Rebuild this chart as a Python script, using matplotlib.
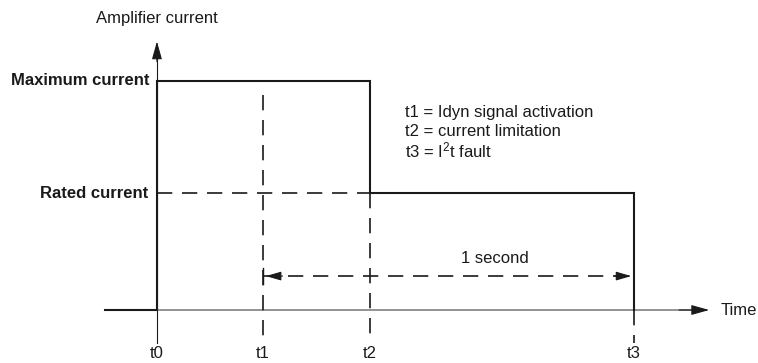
import matplotlib
matplotlib.use("Agg")
import matplotlib.pyplot as plt

plt.rcParams['font.family'] = ['Liberation Sans', 'DejaVu Sans']
plt.rcParams['mathtext.fontset'] = 'custom'
plt.rcParams['mathtext.rm'] = 'Liberation Sans'

# event times (seconds), t1 -> t3 is 1 second
t_names = ['t0', 't1', 't2', 't3']
t_vals = [0.0, 0.286, 0.574, 1.286]

# current levels (relative to rated current)
rated = 1.0
maximum = 1.96

legend_lines = ['t1 = Idyn signal activation',
                't2 = current limitation',
                r't3 = I$\mathregular{^2}$t fault']

t0, t1, t2, t3 = t_vals

fig = plt.figure(figsize=(7.58, 3.63), dpi=100)
ax = fig.add_axes([0, 0, 1, 1])
ax.set_xlim(-0.423, 1.620)
ax.set_ylim(-0.453, 2.650)
ax.axis('off')

dark = '#1a1a1a'
lw_d = 1.2
dash = (0, (11 / lw_d, 7 / lw_d))
fs = 12
big_head = '-|>,head_length=0.5,head_width=0.14'
small_head = '-|>,head_length=0.52,head_width=0.15'

# y axis
ax.plot([t0, t0], [-0.28, 2.2], color=dark, lw=0.8)
ax.annotate('', xy=(t0, 2.32), xytext=(t0, 2.1),
            arrowprops=dict(arrowstyle=big_head, color=dark, lw=0.8, mutation_scale=22))
# time axis
ax.plot([t0, 1.44], [0, 0], color='#808080', lw=1.2)
ax.annotate('', xy=(1.496, 0), xytext=(1.40, 0),
            arrowprops=dict(arrowstyle=big_head, color=dark, lw=0.8, mutation_scale=22))

# dashed guides
ax.plot([t0, t2], [rated, rated], color=dark, lw=lw_d, linestyle=dash)
ax.plot([t1, t1], [1.84, -0.28], color=dark, lw=lw_d, linestyle=dash)
ax.plot([t2, t2], [rated, -0.25], color=dark, lw=lw_d, linestyle=dash)
ax.plot([t3, t3], [0, -0.28], color=dark, lw=lw_d, linestyle=dash)

# waveform
ax.plot([-0.14, t0, t0, t2, t2, t3, t3],
        [0, 0, maximum, maximum, rated, rated, 0],
        color=dark, lw=1.5, solid_joinstyle='miter')

# 1 second span
ys = 0.29
ax.plot([t1, t3], [ys, ys], color=dark, lw=lw_d, linestyle=dash)
ax.plot([t1, t1], [ys - 0.07, ys + 0.07], color=dark, lw=1.0)
ax.annotate('', xy=(t1, ys), xytext=(t1 + 0.06, ys),
            arrowprops=dict(arrowstyle=small_head, color=dark, lw=0.8, mutation_scale=18))
ax.annotate('', xy=(t3, ys), xytext=(t3 - 0.06, ys),
            arrowprops=dict(arrowstyle=small_head, color=dark, lw=0.8, mutation_scale=18))
ax.text(0.911, 0.444, '1 second', fontsize=fs,
        ha='center', va='center', color=dark)

# labels
for name, t in zip(t_names, t_vals):
    ax.text(t, -0.376, name, fontsize=fs, ha='center', va='center', color=dark)
ax.text(1.518, 0, 'Time', fontsize=fs, ha='left', va='center', color=dark)
ax.text(t0, 2.496, 'Amplifier current', fontsize=fs, ha='center', va='center', color=dark)
ax.text(-0.019, maximum, 'Maximum current', fontsize=fs, fontweight='bold',
        ha='right', va='center', color=dark)
ax.text(-0.024, rated, 'Rated current', fontsize=fs, fontweight='bold',
        ha='right', va='center', color=dark)
for i, line in enumerate(legend_lines):
    ax.text(0.668, 1.69 - i * 0.162, line, fontsize=fs, ha='left', va='center', color=dark)

fig.savefig('out.png', dpi=100)
